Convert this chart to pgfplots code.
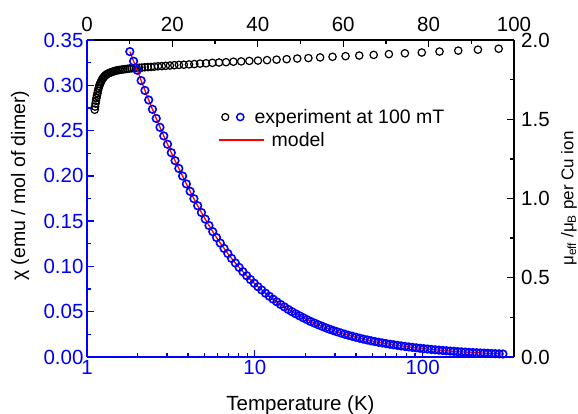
\documentclass[border=0pt]{standalone}
\usepackage{fontspec}
\setmainfont{Liberation Sans}
\usepackage{pgfplots}
\usepackage{pgfplotstable}
\pgfplotsset{compat=1.18}

\pgfplotstableread{
T chi
1.800 0.3372
1.895 0.3266
1.996 0.3166
2.102 0.3052
2.214 0.2943
2.331 0.2838
2.455 0.2735
2.585 0.2634
2.722 0.2536
2.867 0.2441
3.019 0.2349
3.179 0.2256
3.348 0.2168
3.525 0.2082
3.712 0.1998
3.909 0.1911
4.117 0.1829
4.335 0.1748
4.565 0.1670
4.807 0.1595
5.062 0.1523
5.331 0.1452
5.614 0.1384
5.912 0.1319
6.225 0.1258
6.555 0.1199
6.903 0.1143
7.270 0.1089
7.655 0.1038
8.061 0.0989
8.489 0.0942
8.940 0.0897
9.414 0.0855
9.913 0.0815
10.44 0.0776
10.99 0.0740
11.58 0.0704
12.19 0.0671
12.84 0.0639
13.52 0.0609
14.24 0.0580
14.99 0.0553
15.79 0.0526
16.63 0.0501
17.51 0.0477
18.44 0.0455
19.42 0.0433
20.45 0.0412
21.53 0.0392
22.67 0.0374
23.88 0.0356
25.14 0.0339
26.48 0.0322
27.88 0.0307
29.36 0.0292
30.92 0.0278
32.56 0.0265
34.29 0.0252
36.11 0.0240
38.02 0.0229
40.04 0.0218
42.16 0.0207
44.40 0.0197
46.76 0.0188
49.24 0.0179
51.85 0.01706
54.60 0.01627
57.50 0.01552
60.55 0.01480
63.76 0.01411
67.14 0.01346
70.70 0.01283
74.45 0.01224
78.40 0.01167
82.56 0.01113
86.94 0.01061
91.55 0.01012
96.41 0.00964
101.5 0.00919
106.9 0.00876
112.6 0.00835
118.6 0.00796
124.9 0.00759
131.5 0.00723
138.5 0.00689
145.8 0.00657
153.5 0.00626
161.7 0.00596
170.3 0.00568
179.3 0.00541
188.8 0.00516
198.8 0.00491
209.4 0.00468
220.5 0.00445
232.2 0.00424
244.5 0.00404
257.5 0.00385
271.1 0.00367
285.5 0.00349
300.7 0.00333
}\chidata

\pgfplotstableread{
T mu
1.800 1.560
1.895 1.580
1.996 1.599
2.102 1.616
2.214 1.633
2.331 1.649
2.455 1.664
2.585 1.680
2.722 1.696
2.867 1.710
3.019 1.721
3.179 1.731
3.348 1.741
3.525 1.751
3.712 1.758
3.909 1.765
4.117 1.772
4.335 1.777
4.565 1.782
4.807 1.787
5.062 1.790
5.331 1.793
5.614 1.796
5.912 1.799
6.225 1.802
6.555 1.805
6.903 1.807
7.270 1.810
7.655 1.811
8.061 1.813
8.489 1.815
8.940 1.816
9.414 1.818
9.913 1.820
10.44 1.821
10.99 1.822
11.58 1.824
12.19 1.825
12.84 1.826
13.52 1.828
14.24 1.829
14.99 1.830
15.79 1.832
16.63 1.834
17.51 1.835
18.44 1.837
19.42 1.839
20.45 1.841
21.53 1.843
22.67 1.844
23.88 1.846
25.14 1.848
26.48 1.851
27.88 1.853
29.36 1.856
30.92 1.858
32.56 1.860
34.29 1.863
36.11 1.865
38.02 1.868
40.04 1.870
42.16 1.873
44.40 1.876
46.76 1.879
49.24 1.883
51.85 1.886
54.60 1.890
57.50 1.894
60.55 1.898
63.76 1.902
67.14 1.906
70.70 1.911
74.45 1.916
78.40 1.921
82.56 1.927
86.94 1.933
91.55 1.939
96.41 1.945
}\mudata

\begin{document}
\begin{tikzpicture}[font=\fontsize{20.5}{24}\selectfont]
\path[use as bounding box] (-87pt,-57pt) rectangle (491pt,357pt);
% top / right axis: mu_eff vs linear T
\begin{axis}[
  at={(0,0)}, anchor=south west,
  scale only axis, width=427pt, height=317pt,
  xmin=0, xmax=100, ymin=0, ymax=2,
  axis x line*=top, axis y line*=right,
  axis line style={black, line width=1.3pt},
  tick align=inside,
  major tick length=7pt, minor tick length=4pt,
  tick style={black, line width=1.3pt},
  xtick={0,20,40,60,80,100}, minor x tick num=1,
  ytick={0,0.5,1,1.5,2}, minor y tick num=1,
  /pgf/number format/assume math mode=true,
  yticklabel style={/pgf/number format/.cd, fixed, fixed zerofill, precision=1, assume math mode=true, /tikz/inner sep=1pt, /tikz/xshift=6pt},
  xticklabel style={yshift=7pt, inner sep=1pt},
  ylabel={μ\textsubscript{eff} /μ\textsubscript{B} per Cu ion},
  ylabel style={at={(axis description cs:1.1288,0.5)}, anchor=center, font=\fontsize{17}{20}\selectfont},
  legend style={draw=none, fill=none, inner xsep=0pt, inner ysep=0pt, nodes={inner sep=0pt}, column sep=10pt,
    at={(axis description cs:0.3138,0.757)}, anchor=west, font=\fontsize{19.5}{23}\selectfont},
  legend cell align=left,
]
\addlegendimage{legend image code/.code={\draw[black, line width=1.2pt] (4pt,0pt) circle (3.5pt); \draw[blue, line width=1.5pt] (19pt,0pt) circle (3.6pt);}}
\addplot[only marks, mark=o, mark size=3.7pt, black, line width=1.2pt, forget plot] table[x=T, y=mu] {\mudata};
\legend{experiment at 100 mT}
\end{axis}
% bottom / left axis: chi vs log T
\begin{axis}[
  at={(0,0)}, anchor=south west,
  scale only axis, width=427pt, height=317pt,
  xmode=log, xmin=1, xmax=350, ymin=0, ymax=0.35,
  axis x line*=bottom, axis y line*=left,
  axis line style={blue, line width=1.3pt},
  tick align=inside,
  major tick length=7pt, minor tick length=4pt,
  tick style={blue, line width=1.3pt},
  xtick={1,10,100}, xticklabels={1,10,100},
  minor xtick={2,3,4,5,6,7,8,9,20,30,40,50,60,70,80,90,200,300},
  ytick={0,0.05,0.1,0.15,0.2,0.25,0.3,0.35},
  minor ytick={0.025,0.075,0.125,0.175,0.225,0.275,0.325},
  tick label style={blue},
  /pgf/number format/assume math mode=true,
  yticklabel style={/pgf/number format/.cd, fixed, fixed zerofill, precision=2, assume math mode=true},
  xlabel={Temperature (K)},
  ylabel={χ (emu / mol of dimer)},
  xlabel style={at={(axis description cs:0.5,-0.151)}, anchor=center},
  ylabel style={at={(axis description cs:-0.157,0.54)}, anchor=center, font=\fontsize{19.5}{23}\selectfont},
  legend style={draw=none, fill=none, inner xsep=0pt, inner ysep=0pt, nodes={inner sep=0pt}, column sep=7pt,
    at={(axis description cs:0.3068,0.6845)}, anchor=west, font=\fontsize{19.5}{23}\selectfont},
  legend cell align=left,
]
\addlegendimage{legend image code/.code={\draw[red, line width=1.5pt] (0pt,0pt) -- (45pt,0pt);}}
\addplot[only marks, mark=o, mark size=3.8pt, blue, line width=1.6pt, forget plot] table[x=T, y=chi] {\chidata};
\addplot[red, line width=1.3pt, no marks, forget plot] table[x=T, y=chi] {\chidata};
\legend{model}
\end{axis}
\end{tikzpicture}
\end{document}
